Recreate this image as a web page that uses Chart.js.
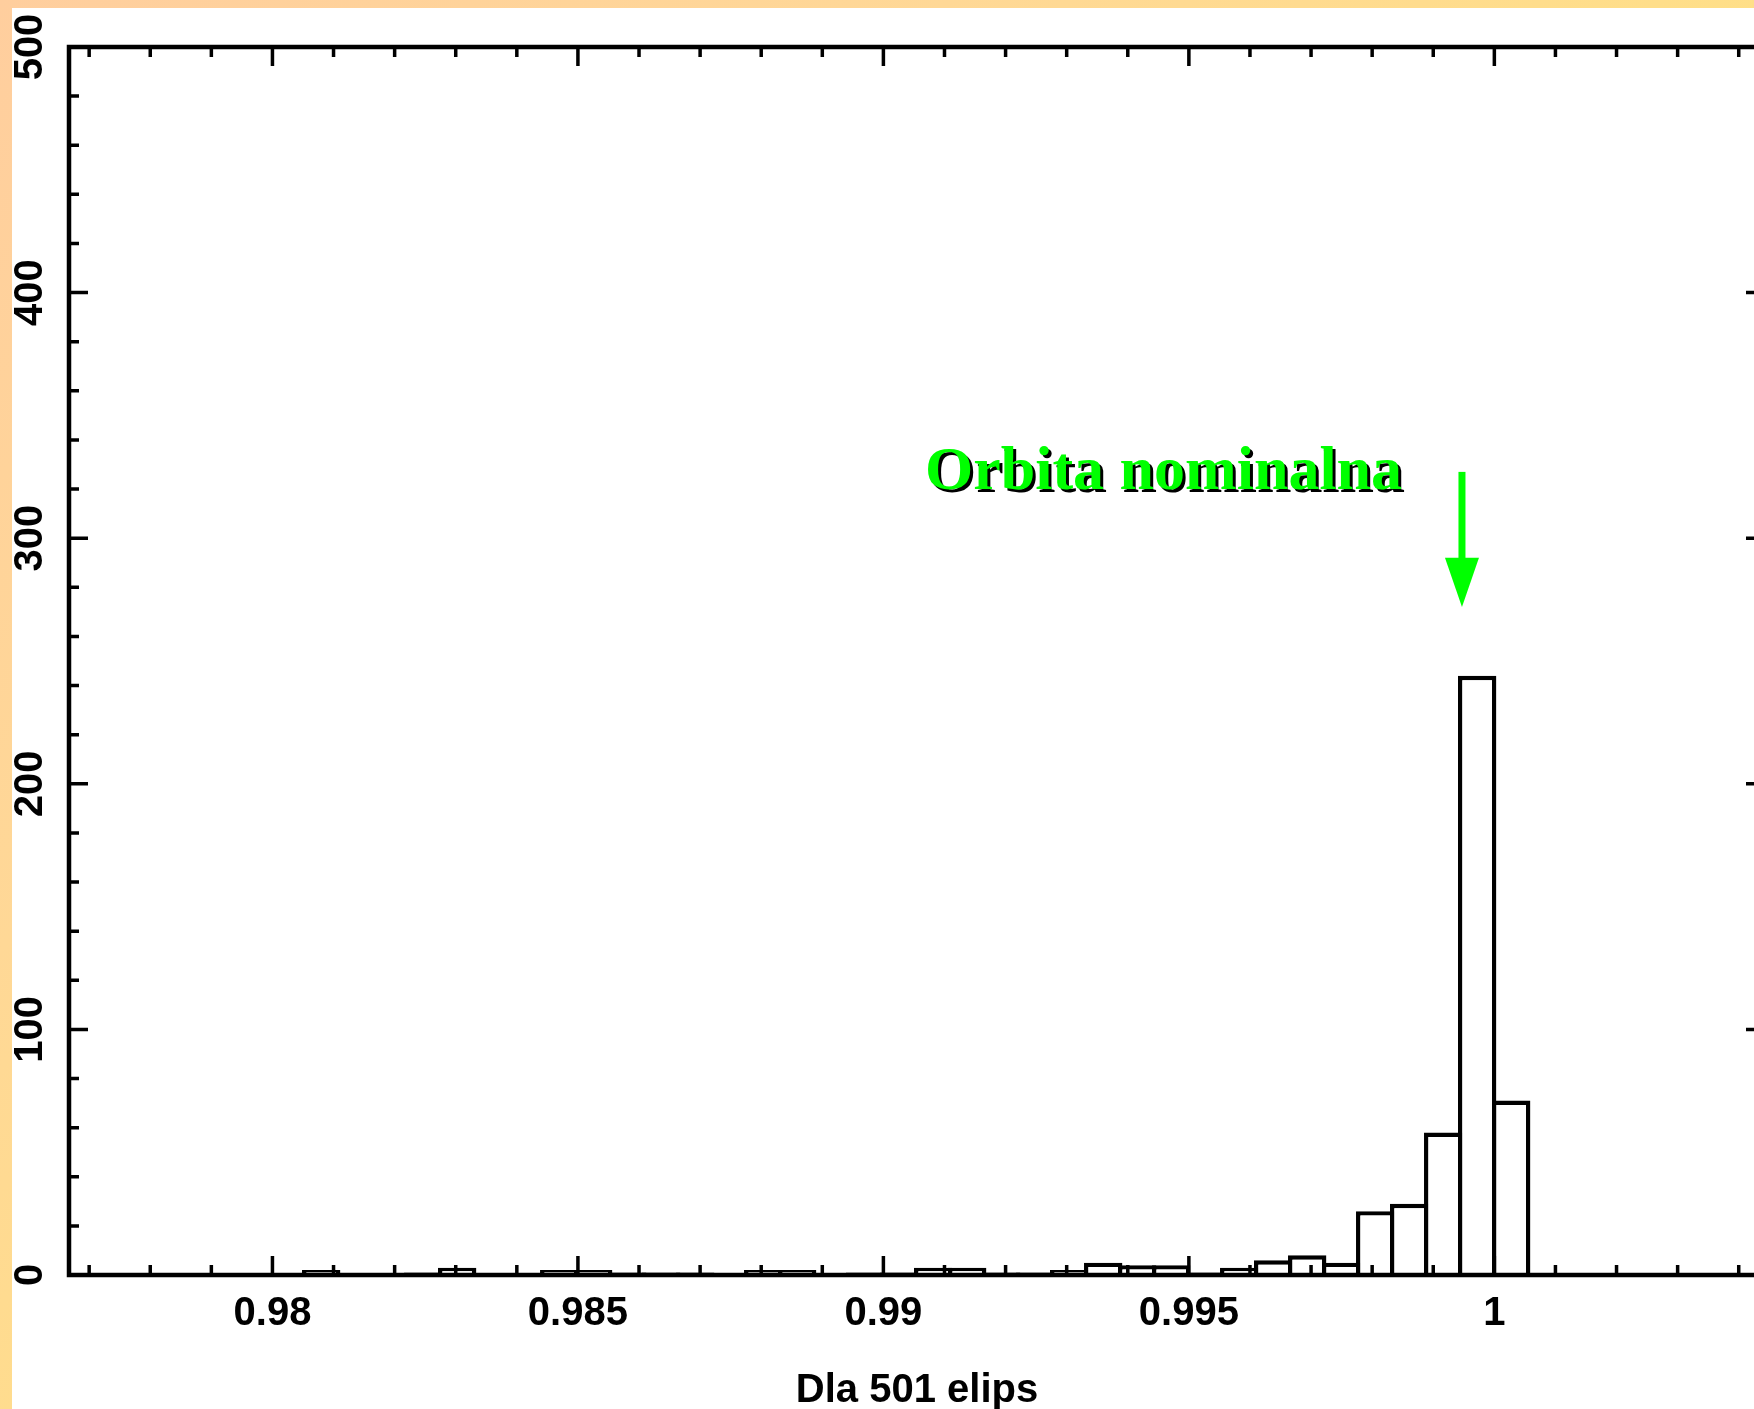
<!DOCTYPE html>
<html><head><meta charset="utf-8">
<script src="https://cdn.jsdelivr.net/npm/chart.js@4/dist/chart.umd.min.js"></script>
<style>
html,body{margin:0;padding:0;overflow:hidden;width:1754px;height:1409px;}
body{position:relative;background:linear-gradient(135deg,#FFCE9E 0%,#FFD896 30%,#FFE086 60%,#FFE47E 100%);}
#wrap{position:absolute;left:12px;top:8px;width:1768px;height:1401px;background:#ffffff;}
canvas{display:block;}
</style></head><body>
<div id="wrap"><canvas id="c" width="1768" height="1401"></canvas></div>
<script>
// Histogram bins (bin centres) and counts
const binCenters = [0.980798,0.981355,0.981911,0.982468,0.983024,0.983581,0.984137,0.984694,0.985250,0.985807,
  0.986363,0.986920,0.987476,0.988033,0.988589,0.989146,0.989702,0.990259,0.990815,0.991372,
  0.991928,0.992485,0.993041,0.993598,0.994154,0.994711,0.995267,0.995824,0.996380,0.996937,
  0.997493,0.998050,0.998606,0.999163,0.999719,1.000276];
const counts = [2,0,0,1,3,0,0,2,2,1,
  1,1,0,2,2,0,1,1,3,3,
  1,1,2,5,4,4,1,3,6,8,
  5,26,29,58,244,71];
const xTickValues = [0.98,0.985,0.99,0.995,1];
const xTickLabels = ['0.98','0.985','0.99','0.995','1'];
const yTickValues = [0,100,200,300,400,500];
const yTickLabels = ['0','100','200','300','400','500'];
const xMinorStep = 0.001;
const yMinorStep = 20;
const xTitle = 'Dla 501 elips';
const noteText = 'Orbita nominalna';
const noteAt = {x: 0.99068, y: 320};          // text baseline-left, data units
const arrowAt = {x: 0.99947, yTop: 327, yHeadBase: 292, yTip: 272};

const XMIN = 0.97667, XMAX = 1.00443, YMIN = 0, YMAX = 500;
const tickFont = {family: "'Liberation Sans', Arial, sans-serif", size: 40, weight: 'bold'};

const framePlugin = {
  id: 'frame',
  afterDatasetsDraw(chart) {
    const {ctx, chartArea: a, scales: {x, y}} = chart;
    ctx.save();
    ctx.strokeStyle = '#000';
    ctx.lineWidth = 4.5;
    ctx.strokeRect(a.left, a.top, a.right - a.left, a.bottom - a.top);
    ctx.lineWidth = 3.5;
    ctx.lineCap = 'butt';
    const isMajor = (v, list) => list.some(m => Math.abs(m - v) < 1e-9);
    for (let v = Math.ceil(XMIN / xMinorStep) * xMinorStep; v <= XMAX + 1e-12; v += xMinorStep) {
      const vv = Math.round(v * 1e6) / 1e6;
      const px = x.getPixelForValue(vv);
      const len = isMajor(vv, xTickValues) ? 19 : 10;
      ctx.beginPath();
      ctx.moveTo(px, a.bottom); ctx.lineTo(px, a.bottom - len);
      ctx.moveTo(px, a.top); ctx.lineTo(px, a.top + len);
      ctx.stroke();
    }
    for (let v = YMIN; v <= YMAX; v += yMinorStep) {
      const py = y.getPixelForValue(v);
      const len = isMajor(v, yTickValues) ? 19 : 10;
      ctx.beginPath();
      ctx.moveTo(a.left, py); ctx.lineTo(a.left + len, py);
      ctx.moveTo(a.right, py); ctx.lineTo(a.right - len, py);
      ctx.stroke();
    }
    ctx.restore();
  },
  afterDraw(chart) {
    const {ctx, scales: {x, y}} = chart;
    ctx.save();
    const tx = x.getPixelForValue(noteAt.x), ty = y.getPixelForValue(noteAt.y);
    ctx.font = "bold 62px 'Liberation Serif', 'Times New Roman', serif";
    ctx.textBaseline = 'alphabetic';
    ctx.textAlign = 'left';
    ctx.fillStyle = '#000';
    ctx.fillText(noteText, tx + 3, ty + 3);
    ctx.fillStyle = '#00ff00';
    ctx.fillText(noteText, tx, ty);
    const ax = x.getPixelForValue(arrowAt.x);
    const yTop = y.getPixelForValue(arrowAt.yTop);
    const yBase = y.getPixelForValue(arrowAt.yHeadBase);
    const yTip = y.getPixelForValue(arrowAt.yTip);
    ctx.fillStyle = '#00ff00';
    ctx.fillRect(ax - 3.5, yTop, 7, yBase - yTop + 1);
    ctx.beginPath();
    ctx.moveTo(ax - 17, yBase);
    ctx.lineTo(ax + 17, yBase);
    ctx.lineTo(ax, yTip);
    ctx.closePath();
    ctx.fill();
    ctx.restore();
  }
};

new Chart(document.getElementById('c'), {
  type: 'bar',
  data: {
    datasets: [{
      data: binCenters.map((c, i) => ({x: c, y: counts[i]})),
      backgroundColor: '#ffffff',
      borderColor: '#000000',
      borderWidth: 4.4,
      borderSkipped: 'start',
      barPercentage: 1.13,
      categoryPercentage: 1,
      inflateAmount: 0
    }]
  },
  options: {
    responsive: false,
    animation: false,
    layout: {padding: {left: 0, top: 39, right: 15, bottom: 0}},
    plugins: {legend: {display: false}, tooltip: {enabled: false}},
    scales: {
      x: {
        type: 'linear', position: 'bottom', min: XMIN, max: XMAX, offset: false,
        grid: {display: false, drawTicks: false, offset: false}, border: {display: false},
        afterBuildTicks: s => { s.ticks = xTickValues.map(v => ({value: v})); },
        afterFit: s => { s.height = 134; },
        ticks: {font: tickFont, color: '#000', padding: 15, maxRotation: 0, minRotation: 0, autoSkip: false,
          callback: (v, i) => xTickLabels[i]},
        title: {display: true, text: xTitle, font: tickFont, color: '#000', padding: {top: 0, bottom: -6}}
      },
      y: {
        type: 'linear', position: 'left', min: YMIN, max: YMAX, offset: false,
        grid: {display: false, drawTicks: false}, border: {display: false},
        afterBuildTicks: s => { s.ticks = yTickValues.map(v => ({value: v})); },
        afterFit: s => { s.width = 57; },
        ticks: {font: tickFont, color: '#000', padding: 5, minRotation: 90, maxRotation: 90, crossAlign: 'center', autoSkip: false,
          callback: (v, i) => yTickLabels[i]}
      }
    }
  },
  plugins: [framePlugin]
});
</script>
</body></html>
